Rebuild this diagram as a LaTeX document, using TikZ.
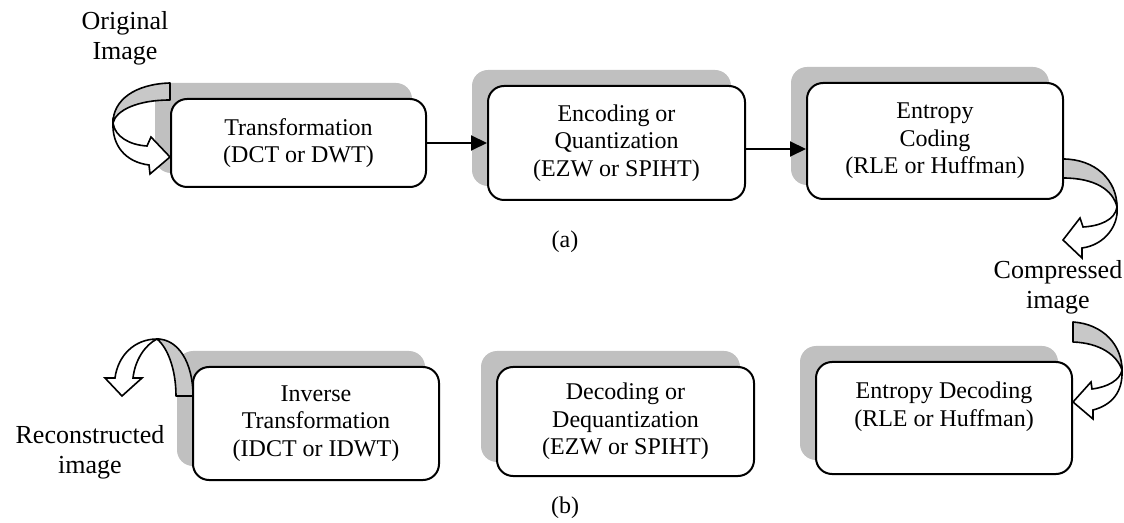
\documentclass[tikz,border=0pt]{standalone}
\usepackage{fontspec}
\setmainfont{Liberation Serif}
\usetikzlibrary{arrows.meta,backgrounds}
\definecolor{shgray}{HTML}{C0C0C0}
\definecolor{bandgray}{HTML}{C8C8C8}
\begin{document}
\begin{tikzpicture}[x=0.5pt,y=-0.5pt,
 box/.style={draw, line width=1pt, rounded corners=8pt, fill=white, align=center,
   font=\fontsize{12}{13.8}\selectfont, inner sep=0pt},
 boxtext/.style={align=center, font=\fontsize{12}{13.8}\selectfont, inner sep=0pt},
 lbl/.style={align=center, font=\fontsize{13}{15}\selectfont, inner sep=0pt},
 subcap/.style={font=\fontsize{12}{14}\selectfont, inner sep=0pt},
 arr/.style={line width=1pt, -{Triangle[length=8pt,width=7.5pt]}},
 band/.style={draw, line width=0.8pt, fill=bandgray, line join=round},
 bandw/.style={draw, line width=0.8pt, fill=white, line join=miter}]
\useasboundingbox (0,0) rectangle (1124,523);

% boxes
\node[box, minimum width=127.5pt, minimum height=44pt] (b1) at (298.5,143) {Transformation\\(DCT or DWT)};
\node[box, minimum width=128.5pt, minimum height=57pt] (b2) at (616.5,143) {Encoding or\\Quantization\\(EZW or SPIHT)};
\node[box, minimum width=128pt, minimum height=58pt] (b3) at (935,141) {Entropy\\Coding\\(RLE or Huffman)};
\node[box, minimum width=123pt, minimum height=56.5pt] (b4) at (316,423.5) {Inverse\\Transformation\\(IDCT or IDWT)};
\node[box, minimum width=128.5pt, minimum height=54.5pt] (b5) at (625.5,421.5) {Decoding or\\Dequantization\\(EZW or SPIHT)};
\node[box, minimum width=128pt, minimum height=56pt] (b6) at (944,418) {};
\node[boxtext] (t6) at (944,407) {Entropy Decoding\\(RLE or Huffman)};

% shadows
\begin{scope}[on background layer]
\foreach \n in {b1,b2,b3,b4,b5,b6}
  \fill[shgray, rounded corners=8pt] ([shift={(-7.5pt,7.5pt)}]\n.south west) rectangle ([shift={(-7.5pt,7.5pt)}]\n.north east);
\end{scope}

% straight connectors
\draw[arr] (b1.east) -- (b2.west);
\draw[arr] (b2.east |- 0,149) -- (b3.west |- 0,149);

% labels
\node[lbl] (orig) at (125,38) {Original\\Image};
\node[lbl] (comp) at (1058,287) {Compressed\\image};
\node[lbl] (recon) at (90,452) {Reconstructed\\image};
\node[subcap] (la) at (565,242) {(a)};
\node[subcap] (lb) at (565,508) {(b)};

% curved arrow A (original image -> transformation)
\path[band] (170,83) .. controls (135,84) and (113,100) .. (113,123)
   .. controls (116,110) and (138,100) .. (170,100) -- cycle;
\path[bandw] (113,123) .. controls (115,137) and (130,145) .. (147,146)
   -- (151,137) -- (170,157) -- (150,174) -- (149,165)
   .. controls (125,162) and (112,145) .. (113,123) -- cycle;

% curved arrow B (entropy coding -> compressed image)
\path[band] (1063,159) .. controls (1095,159) and (1117,180) .. (1117,207)
   .. controls (1113,190) and (1095,178) .. (1063,178) -- cycle;
\path[bandw] (1117,207) .. controls (1115,220) and (1100,226) .. (1083,227)
   -- (1080,218) -- (1063,240) -- (1082,258) -- (1082,248)
   .. controls (1105,245) and (1119,225) .. (1117,207) -- cycle;

% curved arrow C (compressed image -> entropy decoding)
\path[band] (1073,322) .. controls (1103,324) and (1122,345) .. (1122,370)
   .. controls (1117,355) and (1100,343) .. (1073,342) -- cycle;
\path[bandw] (1122,370) .. controls (1120,380) and (1108,387) .. (1092,389)
   -- (1091,382) -- (1073,402) -- (1093,419) -- (1093,410)
   .. controls (1112,405) and (1123,392) .. (1122,370) -- cycle;

% curved arrow D (inverse transformation -> reconstructed image)
\path[band] (193,396) .. controls (193,362) and (178,339) .. (157,339)
   .. controls (168,348) and (176,370) .. (176,396) -- cycle;
\path[bandw] (157,339) .. controls (135,339) and (118,355) .. (115,378)
   -- (105,378) -- (122,396) -- (142,378) -- (133,378)
   .. controls (135,360) and (145,345) .. (157,339) -- cycle;
\end{tikzpicture}
\end{document}
